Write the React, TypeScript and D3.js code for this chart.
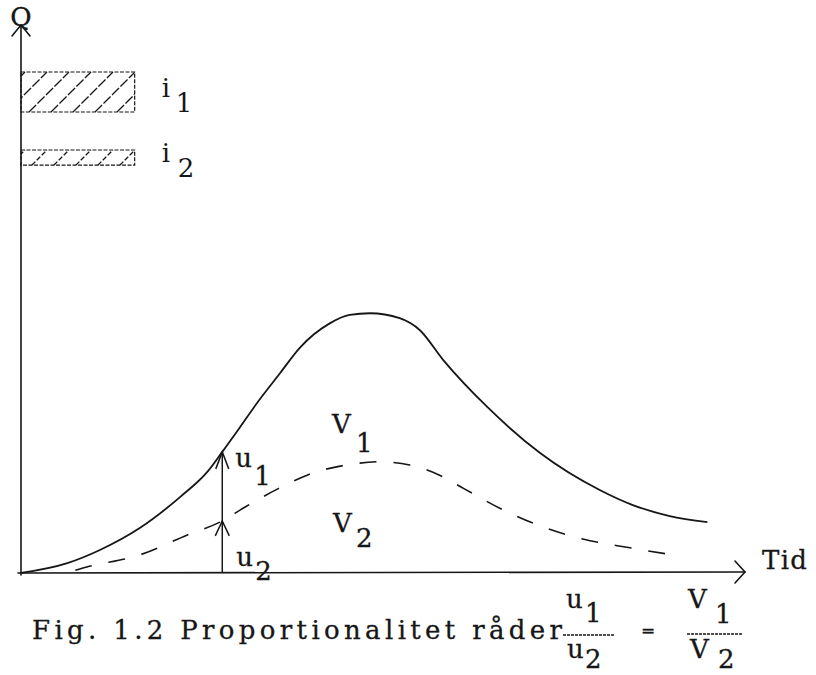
import React from "react";
import * as d3 from "d3";

// Total runoff Q (solid) and second-event runoff (dashed)
const timeSolid = [0, 6.4, 10.9, 16.4, 22.0, 25.7, 27.8, 30.2, 32.7, 35.8, 38.5, 42.7, 45.4, 48.2, 52.3, 55.1, 58.3, 64.4, 71.7, 80.0, 84.5, 89.6, 94.8];
const qFirst = [0, 1.8, 4.2, 8.2, 13.9, 18.4, 22.1, 26.5, 31.2, 36.5, 41.1, 45.6, 47.1, 47.4, 46.5, 44.3, 38.9, 30.3, 21.9, 15.1, 12.4, 10.4, 9.3];
const timeDashed = [7.5, 9.1, 16.4, 22.9, 27.8, 30.9, 35.4, 39.6, 45.9, 49.6, 53.7, 56.9, 61.3, 66.6, 72.1, 77.6, 84.1, 91.0];
const qSecond = [0.5, 1.1, 3.3, 6.9, 9.5, 12.0, 15.3, 17.9, 19.9, 20.3, 19.7, 18.4, 15.3, 11.5, 8.4, 6.2, 4.6, 3.1];

// rain intensity blocks
const rainLabels = ["1", "2"];
const rainDuration = [15.7, 15.7];
const rainIntensity = [1.0, 0.38];

// ordinate marker
const markerTime = 27.8;
const markerU1 = 22.1;
const markerU2 = 9.5;

const axisXLabel = "Tid";
const axisYLabel = "Q";
const captionText = "Fig. 1.2  Proportionalitet råder";

const W = 816;
const H = 675;
const FONT = "'DejaVu Serif', 'Liberation Serif', serif";
const INK = "#161616";
const FS = 26;

function openArrow(tx: number, ty: number, dx: number, dy: number, len: number, half: number) {
  const bx = tx - dx * len;
  const by = ty - dy * len;
  const px = -dy, py = dx;
  return `M${bx + px * half},${by + py * half}L${tx},${ty}L${bx - px * half},${by - py * half}`;
}

export default function App() {
  const x = d3.scaleLinear().domain([0, 100]).range([21, 745]);
  const y = d3.scaleLinear().domain([0, 100]).range([573, 25]);
  const iScale = d3.scaleLinear().domain([0, 1]).range([0, 40]);
  const barTops = [72, 150];

  const line = d3
    .line<[number, number]>()
    .x((d) => x(d[0]))
    .y((d) => y(d[1]))
    .curve(d3.curveMonotoneX);

  const solidPath = line(timeSolid.map((t, i) => [t, qFirst[i]] as [number, number])) || "";
  const dashedPath = line(timeDashed.map((t, i) => [t, qSecond[i]] as [number, number])) || "";

  const x0 = x(0);
  const xEnd = x(100);
  const yBase = y(0);
  const yTop = y(100);

  const mx = x(markerTime);

  return (
    <div style={{ position: "absolute", left: 0, top: 0 }}>
      <svg width={W} height={H} viewBox={`0 0 ${W} ${H}`} style={{ display: "block", background: "#fff" }}>
        <defs>
          {rainLabels.map((_, i) => (
            <clipPath id={`bar${i}`} key={i}>
              <rect x={x0} y={barTops[i]} width={x(rainDuration[i]) - x0} height={iScale(rainIntensity[i])} />
            </clipPath>
          ))}
        </defs>

        {/* axes */}
        <g stroke={INK} strokeWidth={1.6} fill="none" strokeLinecap="round">
          <line x1={x0} y1={yBase + 2} x2={x0} y2={yTop} />
          <line x1={x0 - 3} y1={yBase} x2={xEnd} y2={yBase - 1} />
          <path d={openArrow(x0, yTop, 0, -1, 11, 9)} />
          <path d={openArrow(xEnd, yBase - 1, 1, 0, 10, 11)} />
        </g>

        {/* rain blocks */}
        {rainLabels.map((lab, i) => {
          const bx1 = x(rainDuration[i]);
          const top = barTops[i];
          const h = iScale(rainIntensity[i]);
          const offs = d3.range(x0 - h + 4, bx1 + 1, 22);
          return (
            <g key={i}>
              <g clipPath={`url(#bar${i})`} stroke={INK} strokeWidth={1.3} strokeDasharray={i === 0 ? "10 2" : "5 2"}>
                {offs.map((o, k) => (
                  <line key={k} x1={o} y1={top + h} x2={o + h} y2={top} />
                ))}
              </g>
              <rect x={x0} y={top} width={bx1 - x0} height={h} fill="none" stroke={INK} strokeWidth={1.2} strokeDasharray="4 1.5" />
              <text x={bx1 + 27} y={top + (i === 0 ? 25 : 12)} fontFamily={FONT} fontSize={FS} fill={INK}>i</text>
              <text x={bx1 + 41 + i * 2} y={top + (i === 0 ? 40 : 27)} fontFamily={FONT} fontSize={FS} fill={INK}>{lab}</text>
            </g>
          );
        })}

        {/* hydrographs */}
        <path d={solidPath} fill="none" stroke={INK} strokeWidth={1.8} />
        <path d={dashedPath} fill="none" stroke={INK} strokeWidth={1.6} strokeDasharray="17 17" />

        {/* u arrows */}
        <g stroke={INK} strokeWidth={1.5} fill="none">
          <line x1={mx} y1={yBase} x2={mx} y2={y(markerU1)} />
          <path d={openArrow(mx, y(markerU1), 0, -1, 17, 6.5)} />
          <path d={openArrow(mx, y(markerU2), 0, -1, 15, 7)} />
        </g>

        <g fontFamily={FONT} fontSize={FS} fill={INK} stroke={INK} strokeWidth={0.3}>
          <text x={mx + 13} y={467}>u</text>
          <text x={mx + 32} y={485}>1</text>
          <text x={mx + 14} y={566}>u</text>
          <text x={mx + 33} y={580}>2</text>

          <text x={332} y={433}>V</text>
          <text x={356} y={452}>1</text>
          <text x={333} y={532}>V</text>
          <text x={356} y={547}>2</text>

          <text x={21} y={26} textAnchor="middle">{axisYLabel}</text>
          <text x={762} y={569} textLength={45} lengthAdjust="spacing">{axisXLabel}</text>

          <text x={32} y={639} textLength={530} lengthAdjust="spacing">{captionText}</text>

          {/* u1/u2 fraction */}
          <text x={566} y={608}>u</text>
          <text x={585} y={622}>1</text>
          <line x1={563} y1={635} x2={615} y2={635} strokeWidth={1.3} strokeDasharray="3 1" />
          <text x={567} y={658}>u</text>
          <text x={585} y={668}>2</text>

          <text x={648} y={636} textAnchor="middle" fontSize={17}>=</text>

          {/* V1/V2 fraction */}
          <text x={688} y={608}>V</text>
          <text x={715} y={623}>1</text>
          <line x1={687} y1={634} x2={743} y2={634} strokeWidth={1.3} strokeDasharray="3 1" />
          <text x={690} y={658}>V</text>
          <text x={718} y={668}>2</text>
        </g>
      </svg>
    </div>
  );
}
